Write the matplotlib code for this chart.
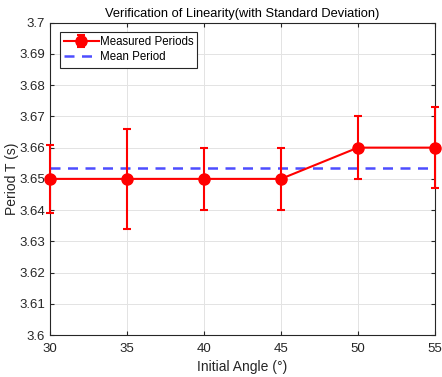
import matplotlib
matplotlib.use('Agg')
import matplotlib.pyplot as plt
import numpy as np

angles = [30, 35, 40, 45, 50, 55]
periods = [3.65, 3.65, 3.65, 3.65, 3.66, 3.66]
stds = [0.011, 0.016, 0.010, 0.010, 0.010, 0.013]
mean_period = np.mean(periods)

plt.rcParams['font.family'] = ['Liberation Sans', 'DejaVu Sans']

fig = plt.figure(figsize=(4.42, 3.77), dpi=100)
ax = fig.add_axes([0.113, 0.111, 0.871, 0.829])

eb = ax.errorbar(angles, periods, yerr=stds, color='#ff0000', lw=1.5, marker='o',
                 markersize=8, capsize=3, elinewidth=1.5, capthick=1.5,
                 label='Measured Periods', zorder=3)
for art in [eb[0], *eb[1], *eb[2]]:
    art.set_clip_on(False)
ax.plot([angles[0], angles[-1]], [mean_period, mean_period], '--', color='#4d4dff',
        lw=1.8, dashes=(4, 3), label='Mean Period', zorder=2)

ax.set_xlim(30, 55)
ax.set_ylim(3.6, 3.7)
ax.set_xticks(angles)
ax.set_yticks(np.arange(3.6, 3.7001, 0.01))
ax.set_yticklabels(['3.6', '3.61', '3.62', '3.63', '3.64', '3.65', '3.66',
                    '3.67', '3.68', '3.69', '3.7'])
ax.grid(True, color='#e3e3e3', lw=0.7)
ax.set_axisbelow(True)
ax.tick_params(direction='in', top=True, right=True, labelsize=9.5,
               colors='#262626', length=3)
ax.tick_params(axis='x', pad=6)
for s in ax.spines.values():
    s.set_color('#262626')
    s.set_linewidth(0.8)

ax.set_xlabel('Initial Angle (°)', fontsize=10, color='#262626', labelpad=3)
ax.set_ylabel('Period T (s)', fontsize=10, color='#262626', labelpad=0)
ax.set_title('Verification of Linearity(with Standard Deviation)', fontsize=9.3,
             color='#000000', pad=4)

handles, labels = ax.get_legend_handles_labels()
order = [labels.index('Measured Periods'), labels.index('Mean Period')]
leg = ax.legend([handles[i] for i in order], [labels[i] for i in order],
                loc='upper left', fontsize=8.3, fancybox=False, framealpha=1,
                edgecolor='#262626', borderpad=0.35, handlelength=3.0,
                handletextpad=0.1, labelspacing=0.3, borderaxespad=0,
                bbox_to_anchor=(0.026, 0.97))
leg.get_frame().set_linewidth(0.8)

fig.savefig('out.png', dpi=100)
